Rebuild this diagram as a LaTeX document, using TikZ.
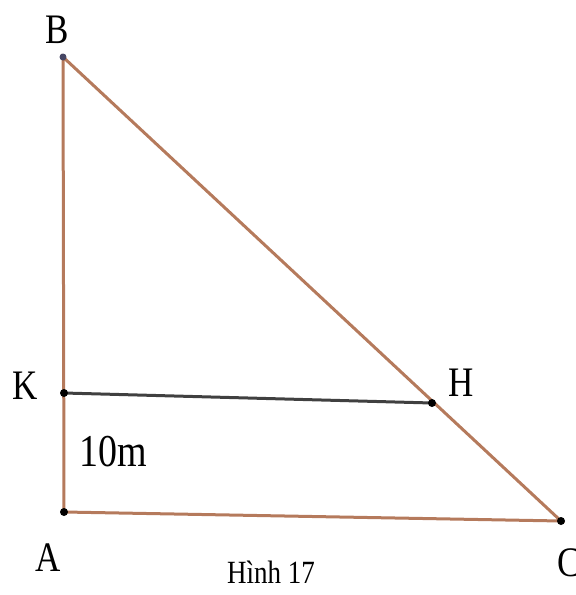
\documentclass[tikz,border=0pt]{standalone}
\usepackage{graphicx}
\usepackage{fontspec}
\setmainfont{Liberation Serif}
\definecolor{SideBrown}{RGB}{181,122,92}
\definecolor{SegGray}{RGB}{64,64,64}
\definecolor{TopDot}{RGB}{70,70,100}
\usetikzlibrary{positioning}
\newcommand{\tall}[1]{\scalebox{1}[1.2]{#1}}

\begin{document}
\begin{tikzpicture}[
    x=1pt, y=-1pt,
    every node/.style={inner sep=0pt},
    side/.style={draw=SideBrown, line width=3pt},
    seg/.style={draw=SegGray, line width=3pt},
    pt/.style={circle, fill=black, minimum size=8pt},
    lbl/.style={font=\fontsize{35}{40}\selectfont},
    caption/.style={font=\fontsize{27}{32}\selectfont}
  ]
  \useasboundingbox (0,0) rectangle (576,595);
  % vertices
  \coordinate (B) at (63,57);
  \coordinate (K) at (64,393);
  \coordinate (H) at (432,403);
  \coordinate (A) at (64,512);
  \coordinate (C) at (561,521);
  % sides
  \draw[side] (B) -- (A) -- (C) -- cycle;
  \draw[seg] (K) -- (H);
  % dots
  \node[pt, fill=TopDot, minimum size=7pt] (dB) at (B) {};
  \node[pt] (dK) at (K) {};
  \node[pt] (dH) at (H) {};
  \node[pt] (dA) at (A) {};
  \node[pt] (dC) at (C) {};
  % labels
  \node[lbl] (lB) at (57,30) {\tall{B}};
  \node[lbl] (lK) at (25,386) {\tall{K}};
  \node[lbl] (lH) at (461,383) {\tall{H}};
  \node[lbl] (lA) at (48,558) {\tall{A}};
  \node[lbl] (lC) at (569,563) {\tall{C}};
  \node[lbl, font=\fontsize{38}{44}\selectfont] (dist) at (113,452) {\tall{10m}};
  \node[caption, anchor=base] (cap) at (271,583) {\tall{Hình 17}};
\end{tikzpicture}
\end{document}
